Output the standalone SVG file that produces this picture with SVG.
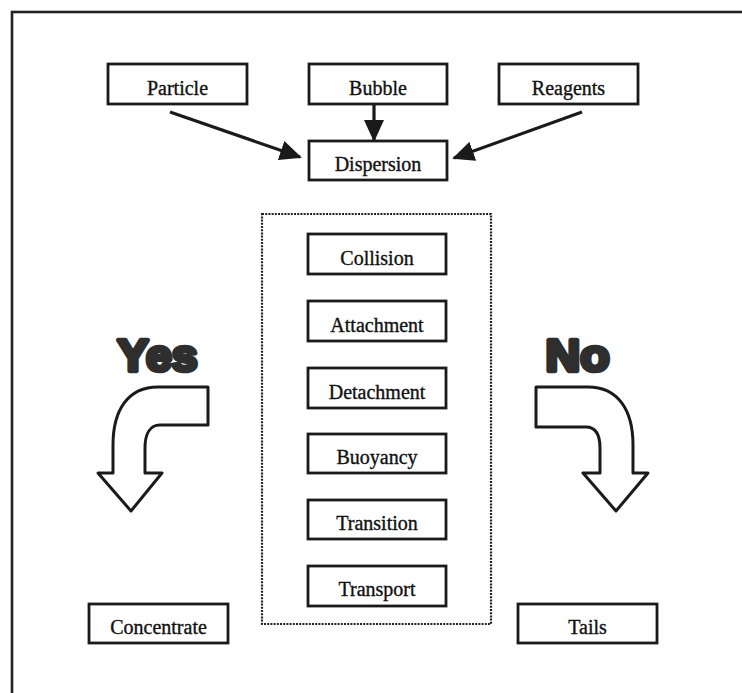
<svg xmlns="http://www.w3.org/2000/svg" width="742" height="693" viewBox="0 0 742 693">
<defs>
<style>
.box{fill:#fff;stroke:#1a1a1a;stroke-width:2.8}
.lbl{font-family:"Liberation Serif","Times New Roman",serif;font-size:20px;fill:#111;text-anchor:middle;stroke:#111;stroke-width:0.35}
.conn{stroke:#1a1a1a;stroke-width:3.2;fill:none}
.big{font-family:"Liberation Sans",Arial,sans-serif;font-weight:bold;font-size:45px;fill:#2e2e2e;stroke:#2e2e2e;stroke-width:4.5;stroke-linejoin:round;text-anchor:middle}
.bend{fill:#fff;stroke:#1a1a1a;stroke-width:3;stroke-linejoin:round}
</style>
<marker id="ah" markerUnits="userSpaceOnUse" markerWidth="22" markerHeight="20" refX="20" refY="10" orient="auto">
<path d="M0,0 L22,10 L0,20 Z" fill="#1a1a1a"/>
</marker>
</defs>
<rect width="742" height="693" fill="#fff"/>
<rect x="12" y="12" width="740" height="700" fill="none" stroke="#222" stroke-width="2.6"/>

<g id="connectors">
<line class="conn" x1="170" y1="112" x2="300" y2="157" marker-end="url(#ah)"/>
<line class="conn" x1="374" y1="104" x2="374" y2="140" marker-end="url(#ah)"/>
<line class="conn" x1="582" y1="112" x2="454" y2="158" marker-end="url(#ah)"/>
</g>

<g id="particle"><rect class="box" x="108" y="64" width="139" height="40"/><text class="lbl" x="177.5" y="95">Particle</text></g>
<g id="bubble"><rect class="box" x="309" y="64" width="138" height="40"/><text class="lbl" x="378" y="95">Bubble</text></g>
<g id="reagents"><rect class="box" x="499" y="64" width="139" height="40"/><text class="lbl" x="568.5" y="95">Reagents</text></g>
<g id="dispersion"><rect class="box" x="309" y="141" width="138" height="39"/><text class="lbl" x="378" y="171">Dispersion</text></g>

<g id="mechanisms">
<rect x="262" y="214" width="229" height="410" fill="none" stroke="#222" stroke-width="2.2" stroke-dasharray="2 1.2"/>
</g>
<g id="collision"><rect class="box" x="308" y="234" width="138" height="40"/><text class="lbl" x="377" y="265">Collision</text></g>
<g id="attachment"><rect class="box" x="308" y="301" width="138" height="40"/><text class="lbl" x="377" y="332">Attachment</text></g>
<g id="detachment"><rect class="box" x="308" y="368" width="138" height="40"/><text class="lbl" x="377" y="399">Detachment</text></g>
<g id="buoyancy"><rect class="box" x="308" y="434" width="138" height="39"/><text class="lbl" x="377" y="464">Buoyancy</text></g>
<g id="transition"><rect class="box" x="308" y="500" width="138" height="39"/><text class="lbl" x="377" y="530">Transition</text></g>
<g id="transport"><rect class="box" x="308" y="566" width="138" height="40"/><text class="lbl" x="377" y="596">Transport</text></g>

<g id="yes">
<text class="big" x="157.5" y="371" textLength="80" lengthAdjust="spacingAndGlyphs">Yes</text>
<path class="bend" d="M208,387 L158,387 C128,387 113,410 113,445 L113,473 L98,473 L131,511 L162,473 L145,473 L145,448 C145,434 150,425 160,425 L208,425 Z"/>
</g>
<g id="no">
<text class="big" x="577.5" y="371" textLength="64" lengthAdjust="spacingAndGlyphs">No</text>
<path class="bend" d="M536,387 L588,387 C618,387 633,410 633,445 L633,473 L648,473 L616,511 L583,473 L600,473 L600,448 C600,435 596,427 586,427 L536,427 Z"/>
</g>

<g id="concentrate"><rect class="box" x="89" y="604" width="139" height="39"/><text class="lbl" x="158.5" y="634">Concentrate</text></g>
<g id="tails"><rect class="box" x="518" y="604" width="139" height="39"/><text class="lbl" x="587.5" y="634">Tails</text></g>
</svg>
